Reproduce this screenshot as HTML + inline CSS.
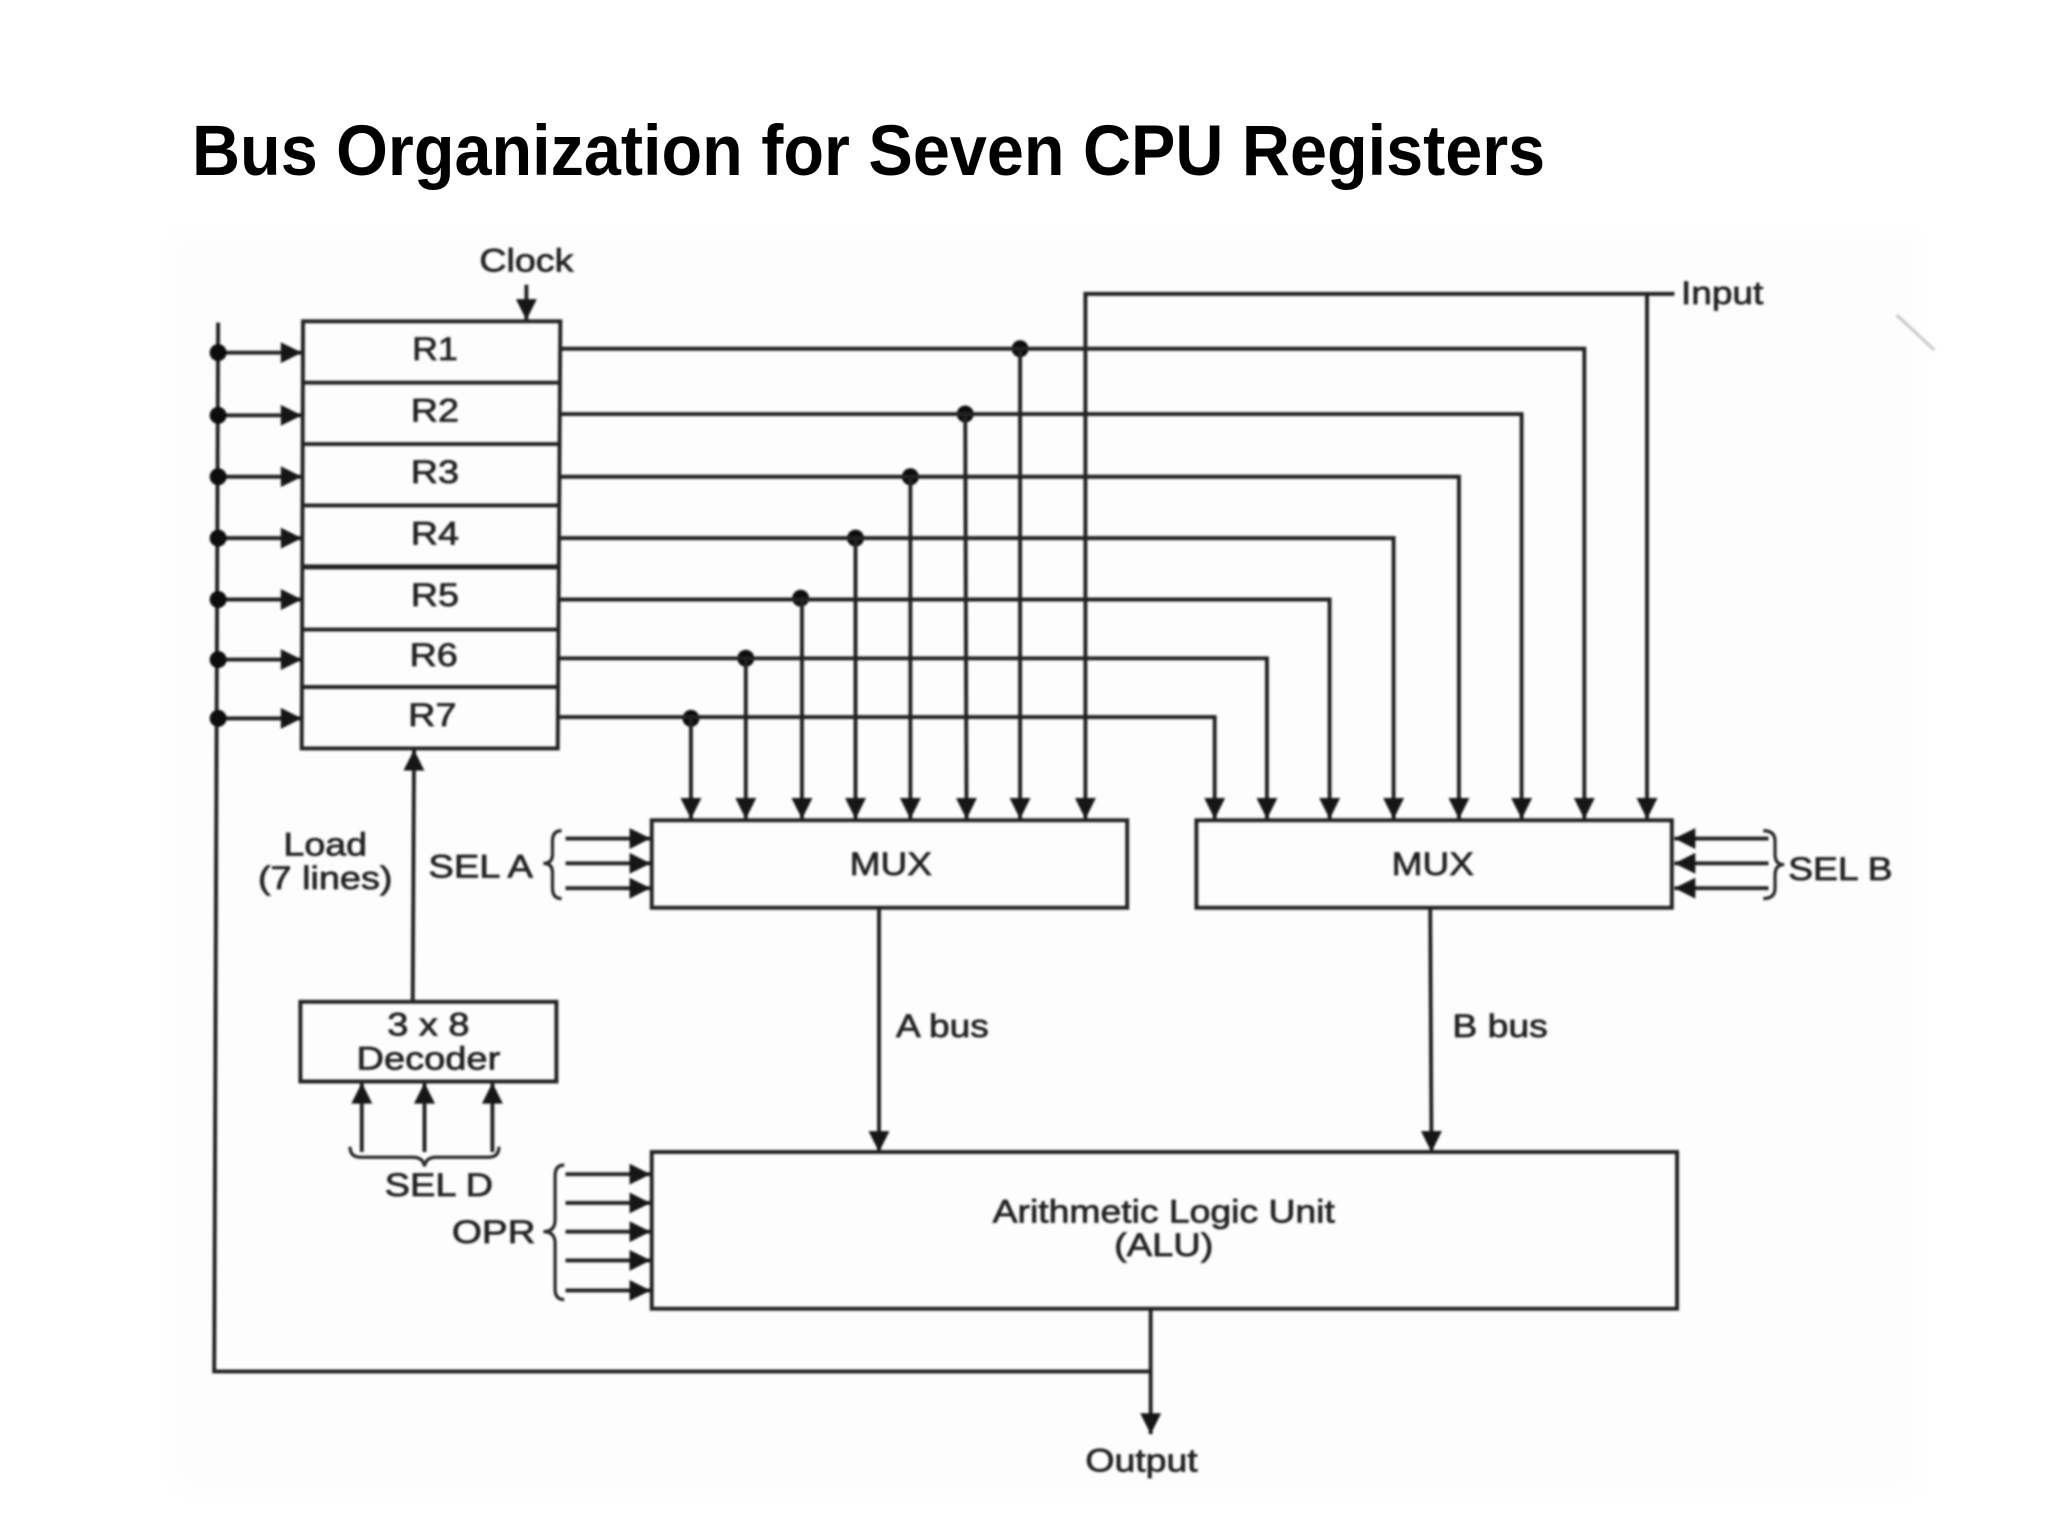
<!DOCTYPE html>
<html><head><meta charset="utf-8"><style>
html,body{margin:0;padding:0;background:#fff;width:2048px;height:1536px;overflow:hidden}
svg{display:block}
.t{font-family:"Liberation Sans",sans-serif;font-size:25px;fill:#222;stroke:#222;stroke-width:.55;text-anchor:middle;dominant-baseline:central}
.l{text-anchor:start}
line,path.w,rect.b{stroke:#222;stroke-width:3;fill:none}
path.br{stroke:#2c2c2c;stroke-width:2.5;fill:none}
</style></head><body>
<svg width="2048" height="1536" viewBox="0 0 1568 1176" xmlns="http://www.w3.org/2000/svg">
<defs>
<marker id="a" markerUnits="userSpaceOnUse" markerWidth="18" markerHeight="18" refX="17" refY="9" orient="auto"><path d="M1,1 L17,9 L1,17 Z" fill="#151515"/></marker>
<filter id="s" x="-5%" y="-5%" width="110%" height="110%"><feGaussianBlur stdDeviation="0.8"/></filter>
<filter id="s2" x="-5%" y="-5%" width="110%" height="110%"><feGaussianBlur stdDeviation="8"/></filter>
</defs>
<rect width="1568" height="1176" fill="#fff"/>
<rect x="132" y="176" width="1340" height="966" fill="#fdfdfd" filter="url(#s2)"/>
<text x="147" y="134" textLength="1036" lengthAdjust="spacingAndGlyphs" style="font-family:'Liberation Sans',sans-serif;font-weight:700;font-size:55px;fill:#000">Bus Organization for Seven CPU Registers</text>

<g filter="url(#s)">
<!-- registers -->
<path class="w" d="M232,246 H429 L427,573 H231 Z"/>
<line x1="232" y1="293" x2="429" y2="293"/>
<line x1="232" y1="340" x2="428" y2="340"/>
<line x1="232" y1="387" x2="428" y2="387"/>
<line x1="232" y1="434" x2="428" y2="434" style="stroke-width:3.8"/>
<line x1="232" y1="482" x2="428" y2="482"/>
<line x1="231" y1="526" x2="427" y2="526"/>
<text class="t" x="333" y="267" textLength="35" lengthAdjust="spacingAndGlyphs">R1</text>
<text class="t" x="333" y="314" textLength="37" lengthAdjust="spacingAndGlyphs">R2</text>
<text class="t" x="333" y="361" textLength="37" lengthAdjust="spacingAndGlyphs">R3</text>
<text class="t" x="333" y="408" textLength="37" lengthAdjust="spacingAndGlyphs">R4</text>
<text class="t" x="333" y="455" textLength="37" lengthAdjust="spacingAndGlyphs">R5</text>
<text class="t" x="332" y="501" textLength="37" lengthAdjust="spacingAndGlyphs">R6</text>
<text class="t" x="331" y="547" textLength="37" lengthAdjust="spacingAndGlyphs">R7</text>

<!-- clock -->
<text class="t" x="403" y="199" textLength="72" lengthAdjust="spacingAndGlyphs">Clock</text>
<line x1="403" y1="218" x2="403" y2="245" marker-end="url(#a)"/>

<!-- left bus -->
<path class="w" d="M167,247 L164,1050 H881"/>
<g>
<line x1="167" y1="270" x2="231" y2="270" marker-end="url(#a)"/>
<line x1="167" y1="318" x2="231" y2="318" marker-end="url(#a)"/>
<line x1="167" y1="365" x2="231" y2="365" marker-end="url(#a)"/>
<line x1="167" y1="412" x2="231" y2="412" marker-end="url(#a)"/>
<line x1="167" y1="459" x2="231" y2="459" marker-end="url(#a)"/>
<line x1="167" y1="505" x2="231" y2="505" marker-end="url(#a)"/>
<line x1="167" y1="550" x2="231" y2="550" marker-end="url(#a)"/>
</g>
<g fill="#111">
<circle cx="167" cy="270" r="6.5"/><circle cx="167" cy="318" r="6.5"/><circle cx="167" cy="365" r="6.5"/><circle cx="167" cy="412" r="6.5"/><circle cx="167" cy="459" r="6.5"/><circle cx="167" cy="505" r="6.5"/><circle cx="167" cy="550" r="6.5"/>
<circle cx="781" cy="267" r="6.5"/><circle cx="739" cy="317" r="6.5"/><circle cx="697" cy="365" r="6.5"/><circle cx="655" cy="412" r="6.5"/><circle cx="613" cy="458" r="6.5"/><circle cx="571" cy="504" r="6.5"/><circle cx="529" cy="550" r="6.5"/>
</g>

<!-- register outputs -->
<path class="w" d="M429,267 H1213 V627" marker-end="url(#a)"/>
<path class="w" d="M429,317 H1165 V627" marker-end="url(#a)"/>
<path class="w" d="M428,365 H1117 V627" marker-end="url(#a)"/>
<path class="w" d="M428,412 H1067 V627" marker-end="url(#a)"/>
<path class="w" d="M428,459 H1018 V627" marker-end="url(#a)"/>
<path class="w" d="M428,504 H970 V627" marker-end="url(#a)"/>
<path class="w" d="M427,549 H930 V627" marker-end="url(#a)"/>
<line x1="781" y1="267" x2="781" y2="627" marker-end="url(#a)"/>
<line x1="739" y1="317" x2="740" y2="627" marker-end="url(#a)"/>
<line x1="697" y1="365" x2="697" y2="627" marker-end="url(#a)"/>
<line x1="655" y1="412" x2="655" y2="627" marker-end="url(#a)"/>
<line x1="614" y1="458" x2="614" y2="627" marker-end="url(#a)"/>
<line x1="571" y1="504" x2="571" y2="627" marker-end="url(#a)"/>
<line x1="529" y1="550" x2="529" y2="627" marker-end="url(#a)"/>

<!-- input -->
<path class="w" d="M1282,225 H831 V627" marker-end="url(#a)"/>
<line x1="1261" y1="225" x2="1261" y2="627" marker-end="url(#a)"/>
<text class="t l" x="1287" y="224" textLength="63" lengthAdjust="spacingAndGlyphs">Input</text>

<!-- mux -->
<rect class="b" x="499" y="628" width="364" height="67"/>
<rect class="b" x="916" y="628" width="364" height="67"/>
<text class="t" x="682" y="661" textLength="63" lengthAdjust="spacingAndGlyphs">MUX</text>
<text class="t" x="1097" y="661" textLength="63" lengthAdjust="spacingAndGlyphs">MUX</text>

<!-- SEL A -->
<text class="t l" x="328" y="663" textLength="80" lengthAdjust="spacingAndGlyphs">SEL A</text>
<path class="br" d="M430,636 Q423,636 423,644 V654 Q423,661 416,661 Q423,661 423,668 V680 Q423,688 430,688"/>
<line x1="433" y1="642" x2="498" y2="642" marker-end="url(#a)"/>
<line x1="433" y1="661" x2="498" y2="661" marker-end="url(#a)"/>
<line x1="433" y1="680" x2="498" y2="680" marker-end="url(#a)"/>

<!-- SEL B -->
<line x1="1354" y1="642" x2="1282" y2="642" marker-end="url(#a)"/>
<line x1="1354" y1="661" x2="1282" y2="661" marker-end="url(#a)"/>
<line x1="1354" y1="680" x2="1282" y2="680" marker-end="url(#a)"/>
<path class="br" d="M1350,636 Q1359,636 1359,644 V654 Q1359,662 1366,662 Q1359,662 1359,670 V680 Q1359,688 1350,688"/>
<text class="t l" x="1369" y="665" textLength="80" lengthAdjust="spacingAndGlyphs">SEL B</text>

<!-- load -->
<line x1="316" y1="766" x2="317" y2="574" marker-end="url(#a)"/>
<text class="t" x="249" y="646" textLength="64" lengthAdjust="spacingAndGlyphs">Load</text>
<text class="t" x="249" y="672" textLength="103" lengthAdjust="spacingAndGlyphs">(7 lines)</text>

<!-- decoder -->
<rect class="b" x="230" y="767" width="196" height="61"/>
<text class="t" x="328" y="784" textLength="63" lengthAdjust="spacingAndGlyphs">3 x 8</text>
<text class="t" x="328" y="810" textLength="110" lengthAdjust="spacingAndGlyphs">Decoder</text>
<line x1="277" y1="882" x2="277" y2="829" marker-end="url(#a)"/>
<line x1="325" y1="882" x2="325" y2="829" marker-end="url(#a)"/>
<line x1="377" y1="882" x2="377" y2="829" marker-end="url(#a)"/>
<path class="br" d="M268,878 Q268,886 276,886 H316 Q324,886 325,893 Q326,886 334,886 H374 Q382,886 382,878"/>
<text class="t" x="336" y="907" textLength="83" lengthAdjust="spacingAndGlyphs">SEL D</text>

<!-- buses -->
<line x1="673" y1="695" x2="673" y2="882" marker-end="url(#a)"/>
<line x1="1095" y1="695" x2="1096" y2="882" marker-end="url(#a)"/>
<text class="t l" x="686" y="785" textLength="71" lengthAdjust="spacingAndGlyphs">A bus</text>
<text class="t l" x="1112" y="785" textLength="73" lengthAdjust="spacingAndGlyphs">B bus</text>

<!-- ALU -->
<rect class="b" x="499" y="882" width="785" height="120"/>
<text class="t" x="891" y="927" textLength="262" lengthAdjust="spacingAndGlyphs">Arithmetic Logic Unit</text>
<text class="t" x="891" y="953" textLength="76" lengthAdjust="spacingAndGlyphs">(ALU)</text>

<!-- OPR -->
<text class="t l" x="346" y="943" textLength="64" lengthAdjust="spacingAndGlyphs">OPR</text>
<path class="br" d="M432,892 Q425,892 425,900 V934 Q425,943 416,943 Q425,943 425,952 V987 Q425,995 432,995"/>
<line x1="433" y1="899" x2="498" y2="899" marker-end="url(#a)"/>
<line x1="433" y1="921" x2="498" y2="921" marker-end="url(#a)"/>
<line x1="433" y1="943" x2="498" y2="943" marker-end="url(#a)"/>
<line x1="433" y1="965" x2="498" y2="965" marker-end="url(#a)"/>
<line x1="433" y1="988" x2="498" y2="988" marker-end="url(#a)"/>

<!-- output -->
<line x1="881" y1="1002" x2="881" y2="1098" marker-end="url(#a)"/>
<text class="t" x="874" y="1118" textLength="86" lengthAdjust="spacingAndGlyphs">Output</text>

<line x1="1452" y1="241" x2="1481" y2="268" style="stroke:#ccc;stroke-width:2.5"/>
</g>
</svg>
</body></html>
